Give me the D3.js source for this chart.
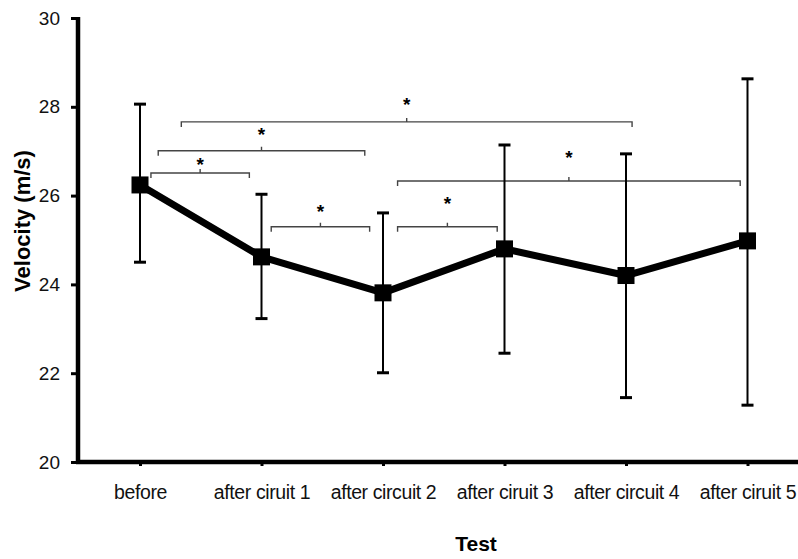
<!DOCTYPE html>
<html>
<head>
<meta charset="utf-8">
<script src="https://cdn.jsdelivr.net/npm/d3@7"></script>
<style>
  body { margin: 0; background: #fff; }
  svg { font-family: "Liberation Sans", Arial, sans-serif; }
</style>
</head>
<body>
<svg id="chart" width="798" height="559"></svg>
<script>
// data
const categories = ["before", "after ciruit 1", "after circuit 2", "after ciruit 3", "after circuit 4", "after ciruit 5"];
const means = [26.24, 24.62, 23.81, 24.80, 24.20, 24.98];
const upper = [28.06, 26.03, 25.61, 27.14, 26.94, 28.63];
const lower = [24.50, 23.23, 22.01, 22.45, 21.45, 21.28];
const yTicks = [20, 22, 24, 26, 28, 30];

// significance brackets: start/end as category positions, level and star height in m/s
const bracketFrom = [0.09, 0.15, 0.34, 1.08, 2.12, 2.12];
const bracketTo   = [0.90, 1.85, 4.05, 1.89, 2.94, 4.94];
const bracketLevel = [26.51, 27.01, 27.66, 25.30, 25.30, 26.33];
const starLevel    = [26.80, 27.48, 28.15, 25.75, 25.92, 26.97];

const svg = d3.select("#chart");
const margin = { top: 18, left: 78, bottom: 97 };
const height = 559 - margin.bottom;

const y = d3.scaleLinear().domain([20, 30]).range([height, margin.top]);
const x = d3.scalePoint().domain(categories).range([140, 747.5]);
const xi = d3.scaleLinear().domain([0, categories.length - 1]).range([140, 747.5]);

// y axis
const yAxis = svg.append("g")
    .attr("transform", `translate(${margin.left},0)`)
    .call(d3.axisLeft(y).tickValues(yTicks).tickSize(7).tickSizeOuter(0).tickPadding(11));
yAxis.select(".domain").remove();
yAxis.selectAll(".tick line").attr("stroke", "#000").attr("stroke-width", 3);
yAxis.selectAll(".tick text").attr("font-size", "19px").attr("fill", "#111");
svg.append("line")
    .attr("x1", margin.left).attr("x2", margin.left)
    .attr("y1", margin.top - 1).attr("y2", height + 2)
    .attr("stroke", "#000").attr("stroke-width", 4.5);

// x axis
const xAxis = svg.append("g")
    .attr("transform", `translate(0,${height})`)
    .call(d3.axisBottom(x).tickSize(4).tickPadding(19));
xAxis.select(".domain").remove();
xAxis.selectAll(".tick line").attr("stroke", "#000").attr("stroke-width", 3);
xAxis.selectAll(".tick text").attr("font-size", "19.5px").attr("fill", "#111")
    .attr("letter-spacing", "-0.4px");
svg.append("line")
    .attr("x1", margin.left - 2).attr("x2", 798)
    .attr("y1", height).attr("y2", height)
    .attr("stroke", "#000").attr("stroke-width", 4.5);

// axis titles
svg.append("text")
    .attr("x", 476).attr("y", 551)
    .attr("text-anchor", "middle")
    .attr("font-size", "21px").attr("font-weight", "bold")
    .text("Test");
svg.append("text")
    .attr("transform", "translate(30,221) rotate(-90)")
    .attr("text-anchor", "middle")
    .attr("font-size", "22px").attr("font-weight", "bold")
    .text("Velocity (m/s)");

// brackets
const brackets = bracketFrom.map((f, i) => ({ from: f, to: bracketTo[i], level: bracketLevel[i], star: starLevel[i] }));
const br = svg.append("g");
br.selectAll("path")
    .data(brackets)
    .enter()
    .append("path")
    .attr("fill", "none")
    .attr("stroke", "#444")
    .attr("stroke-width", 1.4)
    .attr("d", d => {
        const x0 = xi(d.from), x1 = xi(d.to), yy = y(d.level), xm = (x0 + x1) / 2;
        return `M${x0},${yy + 5}L${x0},${yy}L${x1},${yy}L${x1},${yy + 5}M${xm},${yy}L${xm},${yy - 4}`;
    });
br.selectAll("text")
    .data(brackets)
    .enter()
    .append("text")
    .attr("x", d => (xi(d.from) + xi(d.to)) / 2)
    .attr("y", d => y(d.star) + 11)
    .attr("text-anchor", "middle")
    .attr("font-size", "19px").attr("font-weight", "bold")
    .text("*");

// error bars
const points = categories.map((c, i) => ({ cat: c, mean: means[i], hi: upper[i], lo: lower[i] }));
const eb = svg.append("g").attr("stroke", "#000");
eb.selectAll(".bar")
    .data(points)
    .enter()
    .append("line")
    .attr("x1", d => x(d.cat)).attr("x2", d => x(d.cat))
    .attr("y1", d => y(d.hi)).attr("y2", d => y(d.lo))
    .attr("stroke-width", 2);
eb.selectAll(".capHi")
    .data(points)
    .enter()
    .append("line")
    .attr("x1", d => x(d.cat) - 6).attr("x2", d => x(d.cat) + 6)
    .attr("y1", d => y(d.hi)).attr("y2", d => y(d.hi))
    .attr("stroke-width", 3);
eb.selectAll(".capLo")
    .data(points)
    .enter()
    .append("line")
    .attr("x1", d => x(d.cat) - 6).attr("x2", d => x(d.cat) + 6)
    .attr("y1", d => y(d.lo)).attr("y2", d => y(d.lo))
    .attr("stroke-width", 3);

// mean line and markers
const line = d3.line().x(d => x(d.cat)).y(d => y(d.mean));
svg.append("path")
    .datum(points)
    .attr("fill", "none")
    .attr("stroke", "#000")
    .attr("stroke-width", 7)
    .attr("stroke-linejoin", "round")
    .attr("d", line);
svg.selectAll(".marker")
    .data(points)
    .enter()
    .append("rect")
    .attr("class", "marker")
    .attr("x", d => x(d.cat) - 8.5)
    .attr("y", d => y(d.mean) - 8.5)
    .attr("width", 17)
    .attr("height", 17)
    .attr("fill", "#000");
</script>
</body>
</html>
